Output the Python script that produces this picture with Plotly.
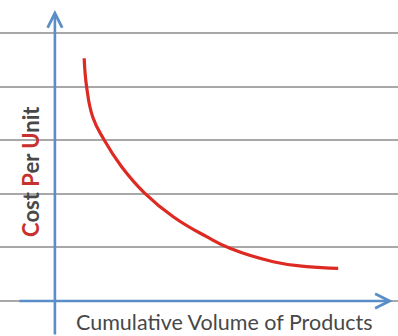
import plotly.graph_objects as go

# Learning-curve sample: cumulative volume vs. unit cost
volume = [0.854, 0.924, 1.105, 1.437, 1.944, 2.623, 3.448, 4.421, 5.101, 6.363, 7.336, 8.257]
unit_cost = [4.528, 3.998, 3.430, 3.004, 2.506, 2.009, 1.573, 1.200, 0.983, 0.733, 0.640, 0.610]

x_range = [-1.6, 10]
y_range = [-0.653, 5.616]

axis_blue = "#5a8ec8"
curve_red = "#dd2a22"
grid_grey = "#a8a8a8"
label_grey = "#484848"
accent_red = "#c8302c"

fig = go.Figure()

fig.add_trace(go.Scatter(
    x=volume, y=unit_cost, mode="lines",
    line=dict(color=curve_red, width=3.2, shape="spline", smoothing=1.3),
    hoverinfo="skip", showlegend=False,
))

annotations = [
    # vertical axis with arrow head at the top
    dict(x=0, y=5.43, xref="x", yref="y", ax=0, ay=y_range[0], axref="x", ayref="y",
         text="", showarrow=True, arrowhead=5, arrowsize=1.1, arrowwidth=2.6,
         arrowcolor=axis_blue, standoff=0),
    # horizontal axis with arrow head at the right
    dict(x=9.85, y=0, xref="x", yref="y", ax=-1.08, ay=0, axref="x", ayref="y",
         text="", showarrow=True, arrowhead=5, arrowsize=1.1, arrowwidth=2.6,
         arrowcolor=axis_blue, standoff=0),
    # axis titles
    dict(x=4.955, y=-0.40, xref="x", yref="y", showarrow=False,
         text="Cumulative Volume of Products",
         font=dict(family="Lato", size=21.5, color=label_grey)),
    dict(x=-0.73, y=2.425, xref="x", yref="y", showarrow=False, textangle=-90,
         text=(f"<b><span style='color:{accent_red}'>C</span>ost "
               f"<span style='color:{accent_red}'>P</span>er "
               f"<span style='color:{accent_red}'>U</span>nit</b>"),
         font=dict(family="Lato", size=22, color=label_grey)),
]

fig.update_layout(
    width=398, height=336,
    margin=dict(l=0, r=0, t=0, b=0),
    paper_bgcolor="white", plot_bgcolor="white",
    xaxis=dict(range=x_range, showgrid=False, zeroline=False,
               showticklabels=False, ticks="", fixedrange=True),
    yaxis=dict(range=y_range, tick0=0, dtick=1, showgrid=True,
               gridcolor=grid_grey, gridwidth=1.6, zeroline=False,
               showticklabels=False, ticks="", fixedrange=True),
    annotations=annotations,
)

fig.write_html("out.html")
